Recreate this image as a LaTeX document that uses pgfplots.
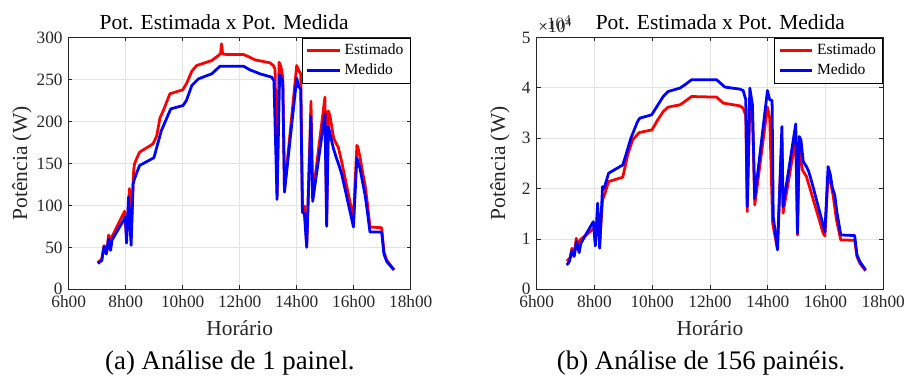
\documentclass[border=0pt]{standalone}
\usepackage{fontspec}
\setmainfont{Liberation Serif}
\usepackage{pgfplots}
\pgfplotsset{compat=1.18}
\definecolor{axgray}{gray}{0.15}
\pgfplotsset{
  common/.style={
    scale only axis,
    anchor=south west,
    xmin=6, xmax=18,
    xtick={6,8,10,12,14,16,18},
    xticklabels={6h00,8h00,10h00,12h00,14h00,16h00,18h00},
    grid=major,
    grid style={gray!22, line width=0.5pt},
    axis line style={axgray, line width=0.5pt},
    tick style={axgray, line width=0.5pt},
    tick align=inside,
    major tick length=2.2pt,
    /pgf/number format/assume math mode=true,
    tick label style={font=\fontsize{10}{12}\selectfont, text=axgray},
    xlabel={Horário},
    ylabel={Potência (W)},
    every axis x label/.style={font=\fontsize{12.4}{14}\selectfont, text=axgray, at={(rel axis cs:0.5,0)}, anchor=base, yshift=-26.5pt},
    every axis title/.style={font=\fontsize{12.4}{14}\selectfont, at={(rel axis cs:0.5,1)}, anchor=base, yshift=4.9pt},
    title={Pot. Estimada x Pot. Medida},
    legend cell align=left,
    legend style={at={(rel axis cs:1,1)}, anchor=north east, draw=black, line width=0.5pt, fill=white,
      font=\fontsize{9}{10}\selectfont, inner xsep=2pt, inner ysep=1.5pt, row sep=-0.5pt},
    legend image code/.code={\draw[#1,line width=1.6pt] (0pt,0pt) -- (18.9pt,0pt);},
    clip mode=individual,
  },
  est/.style={red, line width=1.6pt, line join=round},
  med/.style={blue, line width=1.6pt, line join=round},
}
\begin{document}
\begin{tikzpicture}
\useasboundingbox (-39.7pt,-55.3pt) rectangle (485.1pt,167.2pt);
% ---------------- (a) ----------------
\begin{axis}[common,
  at={(0pt,0pt)}, width=197.7pt, height=145.5pt,
  ymin=0, ymax=300, ytick={0,50,100,150,200,250,300},
  title style={xshift=-9pt},
  every axis y label/.style={font=\fontsize{12.4}{14}\selectfont, text=axgray, at={(rel axis cs:0,0.5)}, xshift=-27pt, rotate=90, anchor=center},
]
\addplot[est] coordinates {
(7.02,31.8) (7.10,34) (7.16,36) (7.24,52) (7.30,50) (7.34,45) (7.40,64.5) (7.44,62) (7.48,60)
(7.96,93) (8.03,62) (8.10,100) (8.13,120) (8.19,60) (8.24,110) (8.28,141.7) (8.31,149.6)
(8.40,157) (8.49,163.5) (8.96,173.4) (9.09,183) (9.20,204) (9.32,213) (9.55,233) (10.00,237.7)
(10.14,245.6) (10.32,260) (10.49,266.7) (11.02,272.6) (11.25,278.6) (11.33,281) (11.36,292.5)
(11.40,280.6) (11.54,279.8) (12.13,279.8) (12.30,277.4) (12.54,273.4) (13.06,269.9) (13.18,266.7)
(13.24,262) (13.31,112) (13.38,270.6) (13.45,264.7) (13.51,252.8) (13.57,118) (14.00,266.7)
(14.07,260.7) (14.14,256.8) (14.20,100) (14.27,99) (14.35,52) (14.50,224) (14.56,110)
(14.99,229) (15.05,80) (15.11,212.5) (15.17,206) (15.29,181) (15.35,176) (15.46,169) (15.58,151.5)
(15.99,84.2) (16.11,171.4) (16.14,170) (16.22,157.5) (16.32,137.7) (16.40,123.8) (16.48,102)
(16.57,74.2) (16.98,73.4) (17.06,44.4) (17.16,34.5) (17.41,23.4)
};
\addlegendentry{Estimado}
\addplot[med] coordinates {
(7.03,30.6) (7.10,33) (7.16,34) (7.24,51) (7.32,42) (7.40,60) (7.47,46.4) (7.52,58.6)
(7.99,86) (8.03,55) (8.10,110) (8.19,52.4) (8.26,125.8) (8.31,131.7) (8.40,140) (8.49,147.6)
(8.99,156.8) (9.25,189) (9.58,215) (10.01,219) (10.13,225) (10.32,243) (10.55,250.8)
(11.02,256.8) (11.31,265.9) (12.13,265.9) (12.36,261.5) (12.71,256.8) (13.12,252.8) (13.20,248.8)
(13.31,107) (13.40,255.6) (13.51,248) (13.57,115.8) (14.00,251.6) (14.07,241) (14.14,239)
(14.20,91.7) (14.27,90) (14.35,50) (14.50,206) (14.56,104.8) (14.99,209) (15.05,75) (15.11,194)
(15.29,167.5) (15.40,155.6) (15.46,150) (15.58,137) (15.99,74.2) (16.11,156.7) (16.22,144)
(16.32,126) (16.40,112) (16.48,92) (16.57,68.2) (16.98,68.2) (17.06,42) (17.16,33) (17.41,23)
};
\addlegendentry{Medido}
\end{axis}
% ---------------- (b) ----------------
\begin{axis}[common,
  at={(270.5pt,0pt)}, width=200.3pt, height=145.5pt,
  ymin=0, ymax=50000, ytick={0,10000,20000,30000,40000,50000},
  yticklabels={0,1,2,3,4,5},
  title style={xshift=6pt},
  every axis y label/.style={font=\fontsize{12.4}{14}\selectfont, text=axgray, at={(rel axis cs:0,0.5)}, xshift=-21.2pt, rotate=90, anchor=center},
]
\addplot[est] coordinates {
(7.04,5630) (7.15,6160) (7.22,8150) (7.29,6480) (7.37,10140) (7.44,8150) (7.50,9800)
(7.99,12130) (8.03,9500) (8.11,15000) (8.18,9000) (8.28,17750) (8.33,18500) (8.49,21400)
(8.98,22260) (9.15,26700) (9.32,29680) (9.55,31130) (9.99,31670) (10.19,33660) (10.38,35300)
(10.55,36180) (10.96,36640) (11.13,37300) (11.36,38290) (12.23,38170) (12.46,36980) (13.03,36440)
(13.15,35990) (13.24,34500) (13.29,15430) (13.38,36440) (13.47,35000) (13.55,16760) (13.99,36180)
(14.07,34000) (14.17,13120) (14.33,8150) (14.49,30000) (14.53,15100) (14.97,30020) (15.03,10800)
(15.09,28030) (15.20,23720) (15.34,22390) (15.46,20080) (15.92,11130) (15.98,10600) (16.09,22720)
(16.17,21390) (16.26,18750) (16.38,13780) (16.53,9800) (17.01,9740) (17.09,6490) (17.19,5160)
(17.39,3670)
};
\addlegendentry{Estimado}
\addplot[med] coordinates {
(7.04,4830) (7.13,5490) (7.22,7610) (7.30,6620) (7.38,9460) (7.47,7280) (7.53,9140)
(7.96,13440) (8.03,8610) (8.11,17100) (8.18,8150) (8.28,20400) (8.33,20000) (8.49,23060)
(8.98,24700) (9.09,26700) (9.26,30000) (9.49,33300) (9.57,34000) (9.98,34650) (10.38,38290)
(10.55,39290) (10.96,39960) (11.13,40620) (11.36,41610) (12.23,41610) (12.52,40160) (13.03,39760)
(13.15,39480) (13.24,37630) (13.29,16420) (13.38,39960) (13.47,36640) (13.55,18090) (13.99,39480)
(14.07,37630) (14.15,37500) (14.19,14430) (14.34,7810) (14.49,32330) (14.53,16420) (14.97,32860)
(15.03,11130) (15.09,30340) (15.15,29680) (15.23,25370) (15.34,24370) (15.42,23380) (15.52,21390)
(15.98,11450) (16.09,24370) (16.17,22720) (16.24,20080) (16.32,18750) (16.40,15110) (16.53,10800)
(17.01,10660) (17.09,6820) (17.19,5490) (17.39,3840)
};
\addlegendentry{Medido}
\node[anchor=base west, inner sep=0pt, font=\fontsize{10}{12}\selectfont, text=axgray]
  at (rel axis cs:0,1) [xshift=0.8pt, yshift=2.7pt] {×10\textsuperscript{4}};
\end{axis}
% captions
\node[anchor=base, font=\fontsize{15.5}{18}\selectfont] at (93.2pt,-46.6pt) {(a) Análise de 1 painel.};
\node[anchor=base, font=\fontsize{15.5}{18}\selectfont] at (365.5pt,-46.6pt) {(b) Análise de 156 painéis.};
\end{tikzpicture}
\end{document}
